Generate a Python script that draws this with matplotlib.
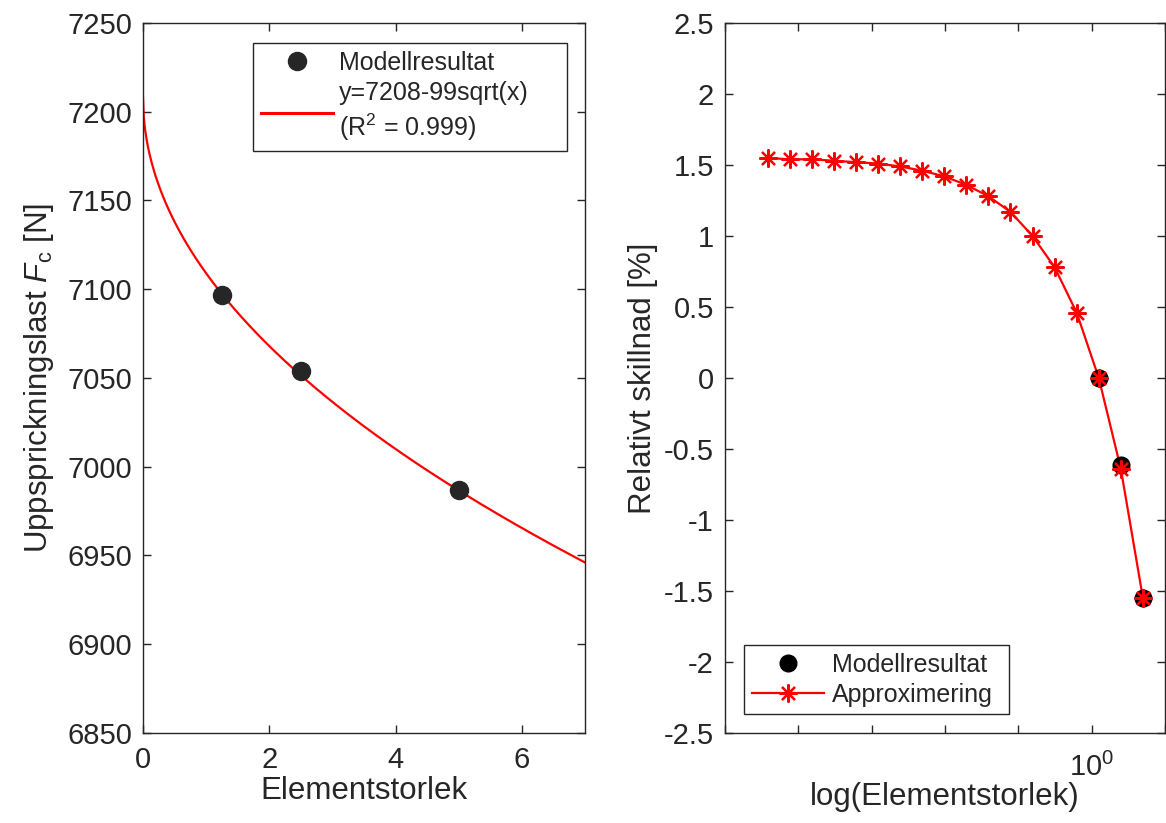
import numpy as np
import matplotlib
matplotlib.use("Agg")
import matplotlib.pyplot as plt
from matplotlib.lines import Line2D
from matplotlib.ticker import FixedLocator, NullLocator, FuncFormatter

plt.rcParams['font.family'] = ['Liberation Sans', 'DejaVu Sans']
plt.rcParams['mathtext.fontset'] = 'custom'
plt.rcParams['mathtext.rm'] = 'Liberation Sans'
plt.rcParams['mathtext.it'] = 'Liberation Sans:italic'
plt.rcParams['mathtext.bf'] = 'Liberation Sans:bold'
plt.rcParams['axes.unicode_minus'] = False

# ---- data ----
model_size = [1.25, 2.5, 5.0]                 # Elementstorlek
model_load = [7097, 7054, 6987]               # Uppsprickningslast [N]
fit_a = 7208                                  # y = a - b*sqrt(x)  (from legend)
fit_b = 99
fit_label = "y=7208-99sqrt(x)\n(R$^2$ = 0.999)"

approx_size = [5.0 / 2**n for n in range(17, -1, -1)]
approx_diff = [1.55, 1.54, 1.54, 1.53, 1.52, 1.51, 1.49, 1.46, 1.42,
               1.36, 1.28, 1.17, 1.00, 0.78, 0.46, 0.00, -0.64, -1.55]
model_diff = [0.00, -0.61, -1.55]

left_yticks = [6850, 6900, 6950, 7000, 7050, 7100, 7150, 7200, 7250]
left_xticks = [0, 2, 4, 6]
right_yticks = [-2.5, -2, -1.5, -1, -0.5, 0, 0.5, 1, 1.5, 2, 2.5]

W, H = 1166, 823
fig = plt.figure(figsize=(W / 100, H / 100), dpi=100)

axc = '#262626'
TICK = 21
LAB = 22.5
LEG = 18

def fx(p):
    return p / W

def fy(p):
    return 1 - p / H

ax1 = fig.add_axes([fx(143), fy(733), fx(585) - fx(143), fy(23) - fy(733)])
ax2 = fig.add_axes([fx(725), fy(733), fx(1165) - fx(725), fy(23) - fy(733)])

for ax in (ax1, ax2):
    for s in ax.spines.values():
        s.set_color(axc)
        s.set_linewidth(1.0)
    ax.tick_params(direction='in', top=True, right=True, length=6, width=1,
                   colors=axc, labelsize=TICK, labelcolor=axc)

# ---- left ----
xs = np.linspace(0, 7, 600)
ax1.plot(xs, fit_a - fit_b * np.sqrt(xs), color='#ff0000', lw=1.6, zorder=2)
ax1.plot(model_size, model_load, 'o', color='#262626', ms=13, zorder=3)
ax1.set_xlim(0, 7)
ax1.set_ylim(6850, 7250)
ax1.xaxis.set_major_locator(FixedLocator(left_xticks))
ax1.yaxis.set_major_locator(FixedLocator(left_yticks))
ax1.tick_params(axis='x', pad=9)
ax1.tick_params(axis='y', pad=8)
ax1.set_xlabel('Elementstorlek', fontsize=LAB, color=axc, labelpad=2)
ax1.set_ylabel('Uppsprickningslast $\\mathit{F}_\\mathrm{c}$ [N]', fontsize=LAB,
               color=axc, labelpad=8)

h1 = [Line2D([], [], ls='none', marker='o', color='#262626', ms=13),
      Line2D([], [], color='#ff0000', lw=2.2)]
leg1 = ax1.legend(h1, ['Modellresultat', fit_label], loc='upper left',
                  bbox_to_anchor=(fx(253), fy(142), fx(567) - fx(253), fy(43) - fy(142)),
                  bbox_transform=fig.transFigure, mode='expand',
                  borderaxespad=0, fontsize=LEG, fancybox=False, framealpha=1,
                  edgecolor=axc, handlelength=2.9, handletextpad=0.25,
                  labelspacing=0.25, borderpad=0.3)
leg1.get_frame().set_linewidth(1.0)
for t in leg1.get_texts():
    t.set_color(axc)
    t.set_linespacing(1.3)

# ---- right ----
ax2.set_xscale('log')
ax2.plot(approx_size, approx_diff, color='#ff0000', lw=1.6, zorder=2)
ax2.plot(model_size, model_diff, 'o', color='black', ms=12, zorder=3)
ax2.plot(approx_size, approx_diff, ls='none', marker=(8, 2, 0), color='#ff0000',
         ms=13, mew=1.6, zorder=4)
ax2.set_xlim(1e-5, 10)
ax2.set_ylim(-2.5, 2.5)
ax2.xaxis.set_major_locator(FixedLocator([1e-5, 1e-4, 1e-3, 1e-2, 1e-1, 1e0, 1e1]))
ax2.xaxis.set_minor_locator(NullLocator())
ax2.xaxis.set_major_formatter(FuncFormatter(lambda v, p: '$10^0$' if abs(v - 1) < 1e-9 else ''))
ax2.yaxis.set_major_locator(FixedLocator(right_yticks))
ax2.yaxis.set_major_formatter(FuncFormatter(lambda v, p: ('%g' % v)))
ax2.tick_params(axis='x', pad=14)
ax2.tick_params(axis='y', pad=8)
ax2.set_xlabel('log(Elementstorlek)', fontsize=LAB, color=axc, labelpad=0)
ax2.set_ylabel('Relativt skillnad [%]', fontsize=LAB, color=axc, labelpad=4)

h2 = [Line2D([], [], ls='none', marker='o', color='black', ms=12),
      Line2D([], [], color='#ff0000', lw=1.6, marker=(8, 2, 0), ms=13, mew=1.6)]
leg2 = ax2.legend(h2, ['Modellresultat', 'Approximering'], loc='upper left',
                  bbox_to_anchor=(fx(744), fy(715), fx(1009) - fx(744), fy(645) - fy(715)),
                  bbox_transform=fig.transFigure, mode='expand',
                  borderaxespad=0, fontsize=LEG, fancybox=False, framealpha=1,
                  edgecolor=axc, handlelength=2.9, handletextpad=0.3,
                  labelspacing=0.25, borderpad=0.3)
leg2.get_frame().set_linewidth(1.0)
for t in leg2.get_texts():
    t.set_color(axc)

fig.savefig('out.png', dpi=100)
